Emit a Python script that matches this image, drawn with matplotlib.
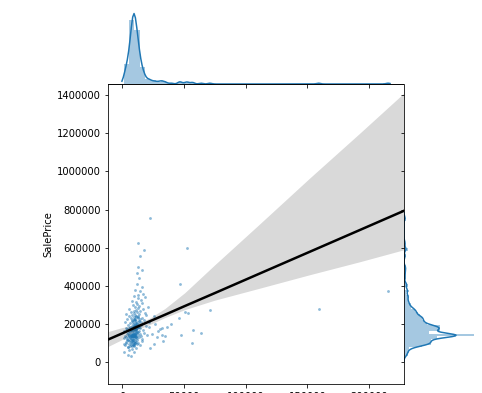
import matplotlib
matplotlib.use('Agg')
import matplotlib.pyplot as plt
import seaborn as sns

# points: main cluster by price band, then the outliers
lot_area = [
    # < 80k
    1700, 4500, 6000, 7200, 8400, 9600, 11000, 5200,
    # 80k - 120k
    1500, 2300, 3200, 3600, 4000, 4800, 5500, 6000, 6300, 6600,
    7000, 7500, 7800, 8000, 8200, 8500, 8800, 9100, 9400, 9700,
    9900, 10000, 10400, 10800, 11300, 11800, 12500, 13300, 14500, 16000,
    5000, 7200, 8600, 9000, 10600,
    # 120k - 160k
    1900, 2600, 3000, 3800, 4400, 5000, 5400, 5800, 6200, 6500,
    6800, 7100, 7400, 7600, 7900, 8100, 8300, 8600, 8700, 8900,
    9000, 9200, 9300, 9500, 9600, 9800, 10100, 10300, 10500, 10700,
    11000, 11200, 11500, 11900, 12300, 12800, 13500, 14200, 15000, 16500,
    18000, 20000, 7700, 9100, 10200, 7000, 7800, 8400, 8800, 9400,
    9700, 10000, 10400, 10900, 11600, 6000, 7300, 8200, 9900, 12000,
    4800, 13000,
    # 160k - 200k
    2000, 3100, 4200, 5100, 5700, 6400, 6900, 7300, 7700, 8000,
    8300, 8600, 8900, 9100, 9400, 9600, 9900, 10200, 10500, 10800,
    11100, 11400, 11700, 12000, 12400, 12900, 13400, 14000, 14800, 15700,
    17000, 19000, 21500, 8800, 10600, 7500, 8200, 9300, 9800, 10400,
    11000, 11600, 12600, 6000, 13800,
    # 200k - 250k
    2500, 4100, 5300, 6400, 7200, 7800, 8400, 8900, 9300, 9700,
    10100, 10500, 10900, 11300, 11700, 12100, 12600, 13100, 13700, 14400,
    15200, 16200, 17500, 19500, 22000, 9500, 11000, 12300, 8100, 10300,
    11500, 12900, 14000,
    # 250k - 310k
    3500, 6000, 7500, 8500, 9400, 10000, 10700, 11200, 11800, 12300,
    12900, 13500, 14100, 14900, 15800, 17000, 18500, 21000,
    # 310k - 450k
    8000, 9600, 10800, 11600, 12200, 12800, 13300, 13900, 14600, 15300,
    16100, 17000, 18200,
    # > 450k
    12200, 13200, 14500, 15800, 17400, 12900, 22600,
    # right of the cluster
    24000, 25500, 27000, 28500, 31000, 33500, 26000, 29500, 23000, 32000,
    # outliers
    52900, 46800, 71000, 53000, 51000, 46100, 40000, 36000, 57300, 63900,
    47600, 56700, 34700, 32000,
    159000, 215245,
]
sale_price = [
    55000, 40000, 62000, 35000, 68000, 52000, 75000, 79000,
    95000, 88000, 105000, 100000, 115000, 82000, 98000, 110000, 86000, 119000,
    90000, 101000, 113000, 117000, 85000, 107000, 96000, 118000, 92000, 104000,
    97000, 87000, 112000, 99000, 108000, 94000, 116000, 103000, 89000, 111000,
    114000, 106000, 91000, 119000, 102000,
    125000, 140000, 132000, 148000, 121000, 155000, 137000, 144000, 129000, 159000,
    134000, 142000, 126000, 150000, 139000, 145000, 123000, 136000, 152000, 130000,
    147000, 138000, 143000, 127000, 156000, 135000, 141000, 149000, 124000, 146000,
    133000, 153000, 139000, 128000, 157000, 144000, 131000, 150000, 137000, 122000,
    154000, 143000, 140000, 145000, 135000, 138000, 142000, 139000, 146000, 141000,
    136000, 144000, 140000, 148000, 132000, 143000, 137000, 141000, 139000, 151000,
    134000, 158000,
    165000, 180000, 172000, 195000, 161000, 185000, 176000, 168000, 190000, 178000,
    163000, 183000, 198000, 170000, 187000, 175000, 193000, 166000, 181000, 189000,
    173000, 196000, 169000, 184000, 177000, 191000, 164000, 186000, 179000, 197000,
    171000, 188000, 182000, 174000, 192000, 167000, 179000, 185000, 172000, 194000,
    176000, 162000, 187000, 181000, 199000,
    210000, 225000, 240000, 205000, 232000, 218000, 245000, 212000, 228000, 236000,
    203000, 249000, 221000, 214000, 238000, 207000, 230000, 243000, 216000, 226000,
    209000, 234000, 220000, 247000, 213000, 223000, 241000, 201000, 219000, 229000,
    206000, 237000, 215000,
    255000, 280000, 265000, 300000, 270000, 258000, 290000, 275000, 305000, 262000,
    285000, 252000, 295000, 268000, 308000, 278000, 260000, 288000,
    320000, 345000, 380000, 315000, 410000, 350000, 335000, 440000, 372000, 325000,
    395000, 360000, 340000,
    465000, 500000, 555000, 485000, 590000, 625000, 755000,
    150000, 95000, 200000, 130000, 175000, 110000, 240000, 165000, 75000, 145000,
    596000, 409000, 273000, 257000, 262000, 231000, 198000, 185000, 168000, 152000,
    142000, 100000, 136000, 178000,
    277000, 375000,
]

# regression line and its 95% band
fit_lot_area = [-11340, 0, 10300, 22400, 34600, 50800, 75100, 111500, 152000, 192500, 228100]
fit_price = [118700, 150600, 180400, 214400, 248400, 294400, 362400, 465000, 579000, 693000, 793400]
fit_upper = [160600, 181500, 194600, 231200, 280900, 364500, 511000, 725400, 966000, 1201000, 1410500]
fit_lower = [82300, 118700, 165800, 197200, 233800, 275600, 325300, 388100, 458700, 526700, 589400]

fig = plt.figure(figsize=(482 / 72, 393 / 72), dpi=72)
ax = fig.add_axes([108 / 482, 9.5 / 393, 296 / 482, 299.5 / 393])
ax_top = fig.add_axes([108 / 482, 309 / 393, 296 / 482, 74 / 393], sharex=ax)
ax_right = fig.add_axes([404 / 482, 9.5 / 393, 74 / 482, 299.5 / 393], sharey=ax)

ax.scatter(lot_area, sale_price, s=8, color='C0', alpha=0.5, linewidths=0)
ax.fill_between(fit_lot_area, fit_lower, fit_upper, color='black', alpha=0.15, linewidth=0)
ax.plot(fit_lot_area, fit_price, color='black', linewidth=2.5)
ax.set_xlabel('LotArea')
ax.set_ylabel('SalePrice')
ax.ticklabel_format(style='plain')
ax.tick_params(axis='x', pad=5.5)

# marginal distributions
ax_top.hist(lot_area, bins=50, density=True, color='C0', alpha=0.4)
sns.kdeplot(x=lot_area, ax=ax_top, color='C0', bw_adjust=0.25, cut=1)
ax_right.hist(sale_price, bins=50, density=True, color='C0', alpha=0.4,
              orientation='horizontal')
sns.kdeplot(y=sale_price, ax=ax_right, color='C0', bw_adjust=0.3)

for s in ['top', 'right', 'left']:
    ax_top.spines[s].set_visible(False)
for s in ['top', 'right', 'bottom']:
    ax_right.spines[s].set_visible(False)
ax_top.yaxis.set_visible(False)
ax_right.xaxis.set_visible(False)
ax_top.tick_params(axis='x', labelbottom=False)
ax_right.tick_params(axis='y', labelleft=False)
ax_top.set_ylim(bottom=0)
ax_right.set_xlim(left=0)

ax.set_xlim(-11340, 228100)
ax.set_ylim(-111400, 1457500)

fig.savefig('out.png', dpi=72)
